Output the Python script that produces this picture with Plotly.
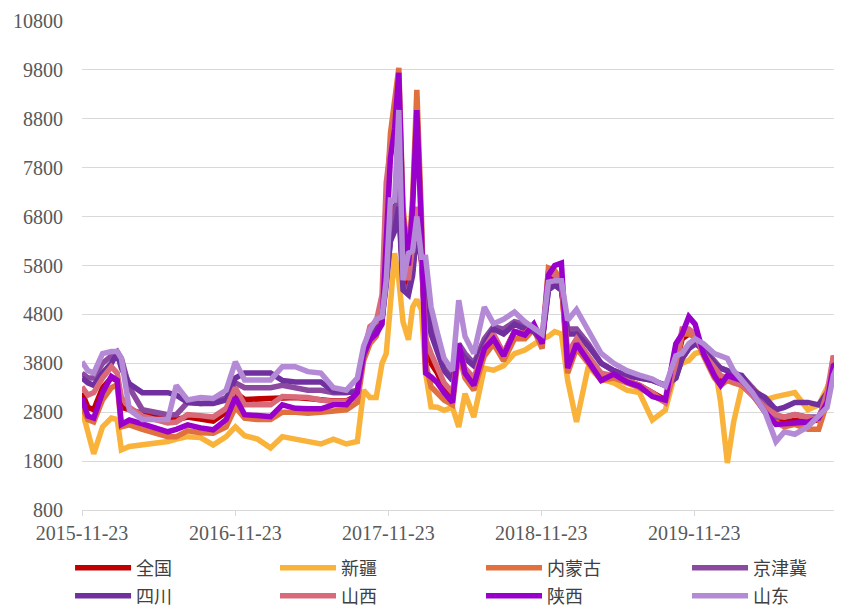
import plotly.graph_objects as go

dates = [
    "2015-11-23", "2015-12-07", "2015-12-21", "2016-01-11", "2016-02-01", "2016-02-15", "2016-02-25", "2016-03-15", "2016-04-15", "2016-05-15",
    "2016-06-15", "2016-07-05", "2016-08-01", "2016-09-01", "2016-10-01", "2016-11-01", "2016-11-23", "2016-12-15", "2017-01-15", "2017-02-15",
    "2017-03-15", "2017-04-15", "2017-05-15", "2017-06-15", "2017-07-15", "2017-08-15", "2017-09-10", "2017-09-25", "2017-10-10", "2017-10-25",
    "2017-11-08", "2017-11-18", "2017-11-28", "2017-12-08", "2017-12-18", "2017-12-28", "2018-01-10", "2018-01-20", "2018-01-30", "2018-02-10",
    "2018-02-20", "2018-03-05", "2018-03-20", "2018-04-05", "2018-04-25", "2018-05-10", "2018-05-25", "2018-06-15", "2018-07-10", "2018-08-01",
    "2018-08-25", "2018-09-20", "2018-10-15", "2018-11-05", "2018-11-25", "2018-12-10", "2018-12-25", "2019-01-10", "2019-01-25", "2019-02-15",
    "2019-03-15", "2019-04-15", "2019-05-15", "2019-06-15", "2019-07-15", "2019-08-15", "2019-09-15", "2019-10-10", "2019-10-25", "2019-11-10",
    "2019-11-25", "2019-12-15", "2020-01-10", "2020-01-25", "2020-02-10", "2020-02-25", "2020-03-15", "2020-04-10", "2020-05-10", "2020-06-05",
    "2020-06-25", "2020-07-20", "2020-08-20", "2020-09-15", "2020-10-05", "2020-10-20", "2020-10-30",
]

quanguo = [
    3200, 2900, 2850, 3300, 3500, 3450, 2900, 2850, 2750, 2700,
    2650, 2650, 2700, 2650, 2620, 2800, 3200, 3060, 3070, 3070,
    3100, 3100, 3080, 3050, 3030, 3030, 3150, 3950, 4300, 4450,
    4800, 6000, 6800, 7000, 7000, 5600, 5400, 6000, 6800, 5900,
    4300, 3800, 3600, 3300, 3150, 4100, 3650, 3450, 4050, 4350,
    4000, 4450, 4380, 4500, 4250, 5500, 5550, 5400, 3900, 4200,
    3900, 3550, 3550, 3450, 3350, 3200, 3050, 3750, 4300, 4400,
    4350, 4000, 3650, 3500, 3500, 3450, 3400, 3150, 2850, 2600,
    2600, 2630, 2600, 2650, 3100, 3800, 3700,
]
xinjiang = [
    2850, 2400, 1950, 2500, 2680, 2650, 2030, 2100, 2130, 2150,
    2200, 2250, 2300, 2280, 2130, 2300, 2500, 2320, 2250, 2070,
    2300, 2250, 2200, 2150, 2250, 2150, 2200, 3250, 3100, 3100,
    3800, 4000, 5000, 6050, 5500, 4650, 4280, 4950, 5100, 4900,
    3600, 2910, 2900, 2840, 2900, 2500, 3180, 2700, 3700, 3660,
    3750, 4000, 4070, 4200, 4300, 4350, 4450, 4400, 3450, 2600,
    3730, 3480, 3400, 3250, 3200, 2640, 2840, 3650, 3800, 3860,
    4000, 4050, 3800, 3000, 1760, 2600, 3300, 3300, 3050, 3120,
    3150, 3200, 2850, 2950, 3300, 3600, 3300,
]
neimenggu = [
    2920, 2650, 2600, 3050, 3300, 3360, 2500, 2540, 2450, 2380,
    2300, 2300, 2420, 2380, 2370, 2500, 2900, 2680, 2650, 2650,
    2800, 2800, 2780, 2800, 2830, 2850, 3000, 3850, 4200, 4350,
    4700, 7000, 8500, 9200, 9840, 7000, 5900, 7200, 9390, 6800,
    3800, 3320, 3200, 3050, 2950, 4000, 3500, 3250, 3950, 4200,
    3850, 4300, 4300, 4500, 4100, 5750, 5700, 5500, 3600, 4100,
    3800, 3450, 3500, 3400, 3300, 3150, 3000, 3700, 4400, 4400,
    4350, 3950, 3500, 3350, 3450, 3400, 3350, 3150, 2800, 2600,
    2500, 2550, 2450, 2450, 3000, 3950, 3700,
]
jingjinji = [
    3600, 3500, 3500, 3800, 3950, 4040, 3900, 3300, 2850, 2800,
    2750, 2750, 3000, 2980, 3000, 3100, 3400, 3300, 3300, 3300,
    3350, 3300, 3250, 3250, 3200, 3200, 3250, 4000, 4300, 4500,
    4700, 5500, 6300, 6800, 7500, 5400, 5300, 5700, 6600, 6000,
    5200, 4600, 4100, 3700, 3500, 4200, 4000, 3800, 4300, 4550,
    4500, 4650, 4600, 4500, 4300, 5300, 5400, 5300, 4500, 4500,
    4200, 3800, 3650, 3550, 3500, 3450, 3350, 3500, 3900, 4100,
    4200, 4100, 3850, 3700, 3650, 3600, 3550, 3300, 3000, 2700,
    2700, 2750, 2700, 2700, 3100, 3600, 3800,
]
sichuan = [
    3500, 3400, 3350, 3600, 3800, 4000, 3700, 3380, 3200, 3200,
    3200, 3150, 3000, 2980, 2980, 3050, 3500, 3600, 3600, 3600,
    3450, 3420, 3420, 3420, 3220, 3220, 3200, 3950, 4300, 4500,
    4700, 5400, 6300, 6500, 7000, 5300, 5200, 5600, 6500, 5900,
    5000, 4400, 4000, 3650, 3450, 4100, 3900, 3750, 4200, 4500,
    4400, 4600, 4500, 4450, 4250, 5300, 5400, 5300, 4400, 4400,
    4150, 3800, 3650, 3550, 3500, 3450, 3350, 3500, 3900, 4100,
    4200, 4100, 3800, 3700, 3650, 3550, 3550, 3250, 3100, 2850,
    2900, 3000, 3000, 2950, 3200, 3600, 3800,
]
shanxi = [
    3320, 3150, 3200, 3500, 3730, 3600, 3100, 2900, 2720, 2650,
    2580, 2600, 2750, 2730, 2700, 2880, 3300, 2950, 2950, 2950,
    3120, 3100, 3100, 3050, 3020, 3020, 3100, 4000, 4550, 4650,
    5200, 7500, 8200, 8500, 9000, 6500, 5500, 6200, 7000, 6000,
    4300, 4000, 3700, 3400, 3200, 4100, 3700, 3500, 4100, 4400,
    4000, 4450, 4400, 4600, 4300, 5700, 5600, 5500, 4000, 4300,
    3950, 3600, 3550, 3450, 3350, 3200, 3000, 3800, 4500, 4500,
    4400, 4000, 3700, 3550, 3500, 3450, 3350, 3150, 2900, 2750,
    2700, 2750, 2700, 2650, 3200, 3950, 3750,
]
shaanxi = [
    3090, 2720, 2680, 3200, 3530, 3450, 2550, 2640, 2560, 2480,
    2400, 2450, 2540, 2480, 2440, 2650, 3100, 2750, 2720, 2710,
    2950, 2880, 2870, 2870, 2950, 2950, 3200, 4000, 4280, 4400,
    4600, 6500, 8000, 8600, 9740, 6800, 5800, 7000, 8980, 6500,
    3600, 3520, 3400, 3200, 3000, 4200, 3600, 3350, 4100, 4300,
    3950, 4450, 4380, 4600, 4200, 5600, 5800, 5850, 3700, 4200,
    3850, 3450, 3580, 3420, 3330, 3120, 3050, 4200, 4400, 4750,
    4600, 4000, 3550, 3350, 3550, 3500, 3450, 3200, 2800, 2550,
    2560, 2560, 2600, 2680, 3000, 3750, 3800,
]
shandong = [
    3830, 3650, 3600, 4000, 4040, 4040, 3900, 2850, 2650, 2650,
    2650, 3350, 3050, 3100, 3080, 3250, 3830, 3460, 3460, 3460,
    3730, 3730, 3630, 3600, 3300, 3250, 3500, 4150, 4480, 4700,
    4750, 5500, 7140, 7140, 8980, 5500, 6050, 6100, 6800, 5970,
    5970, 4950, 4420, 3900, 3650, 5090, 4350, 4000, 4950, 4610,
    4700, 4850, 4650, 4520, 4400, 5460, 5490, 5490, 4680, 4900,
    4450, 4000, 3800, 3650, 3560, 3480, 3330, 3950, 4000, 4200,
    4300, 4200, 4000, 3940, 3900, 3650, 3450, 3200, 2800, 2200,
    2400, 2350, 2500, 2750, 2900, 3550, 3750,
]

series_names = ["全国", "新疆", "内蒙古", "京津冀", "四川", "山西", "陕西", "山东"]
series_values = [quanguo, xinjiang, neimenggu, jingjinji, sichuan, shanxi, shaanxi, shandong]
series_colors = ["#C00000", "#F9B33B", "#E0703E", "#8B4AA0", "#7030A0", "#D96A7A", "#9900CC", "#B48AD6"]

x_tick_dates = ["2015-11-23", "2016-11-23", "2017-11-23", "2018-11-23", "2019-11-23"]
y_ticks = [800, 1800, 2800, 3800, 4800, 5800, 6800, 7800, 8800, 9800, 10800]

# legend slots: 4 columns x 2 rows
legend_x = [-0.0158, 0.2553, 0.5278, 0.8003]
legend_y = [-0.1186, -0.1759]

fig = go.Figure()
legend_layouts = {}
for i, (name, vals, color) in enumerate(zip(series_names, series_values, series_colors)):
    key = "legend" if i == 0 else f"legend{i + 1}"
    fig.add_trace(go.Scatter(
        x=dates, y=vals, name=name, mode="lines",
        line=dict(color=color, width=5.5),
        legend=key,
    ))
    legend_layouts[key] = dict(
        x=legend_x[i % 4], y=legend_y[i // 4],
        xanchor="left", yanchor="middle", orientation="h",
        font=dict(family="Noto Sans CJK SC", size=18, color="#404040"),
        bgcolor="rgba(0,0,0,0)", itemwidth=56,
    )

# the page body adds an 8px offset, so the figure is 8px smaller on each side
fig.update_layout(
    width=834, height=599,
    margin=dict(l=74, r=4, t=13, b=97, autoexpand=False),
    plot_bgcolor="white", paper_bgcolor="white",
    font=dict(family="Liberation Serif", color="#595959", size=20),
    showlegend=True,
    xaxis=dict(
        type="date", range=["2015-11-23", "2020-10-31"],
        tickvals=x_tick_dates, ticktext=x_tick_dates,
        showgrid=False, zeroline=False,
        showline=True, linecolor="#d9d9d9", linewidth=1,
        ticks="outside", ticklen=5, tickcolor="#d9d9d9",
        tickfont=dict(family="Liberation Serif", size=20, color="#595959"),
    ),
    yaxis=dict(
        range=[800, 10800], tickvals=y_ticks, ticktext=[str(v) for v in y_ticks],
        showgrid=True, gridcolor="#d9d9d9", gridwidth=1, zeroline=False,
        showline=False,
        ticks="outside", ticklen=14, tickcolor="rgba(0,0,0,0)",
        tickfont=dict(family="Liberation Serif", size=20, color="#595959"),
    ),
    **legend_layouts,
)

fig.write_html("out.html")
